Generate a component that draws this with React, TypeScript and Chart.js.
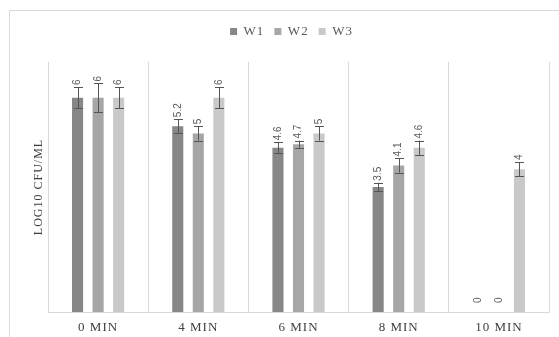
import React, { useEffect, useRef } from "react";
import { Chart, registerables } from "chart.js";

Chart.register(...registerables);

const categories = ["0 MIN", "4 MIN", "6 MIN", "8 MIN", "10 MIN"];
const seriesNames = ["W1", "W2", "W3"];
const w1Values = [6, 5.2, 4.6, 3.5, 0];
const w2Values = [6, 5, 4.7, 4.1, 0];
const w3Values = [6, 6, 5, 4.6, 4];
const w1Errors = [0.3, 0.2, 0.15, 0.12, 0];
const w2Errors = [0.4, 0.2, 0.1, 0.2, 0];
const w3Errors = [0.3, 0.3, 0.2, 0.2, 0.2];
const yTitle = "LOG10 CFU/ML";
const yMin = 0;
const yMax = 7;

const seriesValues = [w1Values, w2Values, w3Values];
const seriesErrors = [w1Errors, w2Errors, w3Errors];
const seriesColors = ["#878787", "#a6a6a6", "#c9c9c9"];

const SERIF = "'Liberation Serif', 'Times New Roman', serif";
const SANS = "'Liberation Sans', Arial, sans-serif";

const errorBarPlugin = {
  id: "errorBarsAndLabels",
  beforeUpdate(chart: any) {
    chart.ctx.letterSpacing = "1px";
  },
  beforeDraw(chart: any) {
    const ctx = chart.ctx;
    ctx.letterSpacing = "1px";
    ctx.save();
    ctx.strokeStyle = "#d9d9d9";
    ctx.lineWidth = 1;
    ctx.beginPath();
    ctx.moveTo(9.5, chart.height);
    ctx.lineTo(9.5, 10.5);
    ctx.lineTo(chart.width, 10.5);
    ctx.stroke();
    ctx.restore();
  },
  afterDatasetsDraw(chart: any) {
    const ctx = chart.ctx;
    const yScale = chart.scales.y;
    ctx.save();
    ctx.letterSpacing = "0px";
    chart.data.datasets.forEach((ds: any, di: number) => {
      const meta = chart.getDatasetMeta(di);
      const errs = seriesErrors[di];
      meta.data.forEach((bar: any, i: number) => {
        const v = ds.data[i] as number;
        const e = errs[i];
        const x = bar.x;
        let topY = yScale.getPixelForValue(v);
        if (e > 0) {
          const yHi = yScale.getPixelForValue(v + e);
          const yLo = yScale.getPixelForValue(v - e);
          const xs = Math.round(x) + 0.5;
          ctx.strokeStyle = "#555555";
          ctx.lineWidth = 1;
          ctx.beginPath();
          ctx.moveTo(xs, yHi);
          ctx.lineTo(xs, yLo);
          ctx.moveTo(xs - 4.5, Math.round(yHi) + 0.5);
          ctx.lineTo(xs + 4.5, Math.round(yHi) + 0.5);
          ctx.moveTo(xs - 4.5, Math.round(yLo) + 0.5);
          ctx.lineTo(xs + 4.5, Math.round(yLo) + 0.5);
          ctx.stroke();
          topY = yHi;
        }
        const gap = v === 0 ? 9 : 2;
        ctx.save();
        ctx.translate(x, topY - gap);
        ctx.rotate(-Math.PI / 2);
        ctx.fillStyle = "#595959";
        ctx.font = `10px ${SANS}`;
        ctx.textAlign = "left";
        ctx.textBaseline = "middle";
        ctx.fillText(String(v), 0, 0);
        ctx.restore();
      });
    });
    ctx.restore();
  },
};

export default function App() {
  const canvasRef = useRef<HTMLCanvasElement | null>(null);

  useEffect(() => {
    const canvas = canvasRef.current;
    if (!canvas) return;
    const chart = new Chart(canvas, {
      type: "bar",
      data: {
        labels: categories,
        datasets: seriesNames.map((name, i) => ({
          label: name,
          data: seriesValues[i],
          backgroundColor: seriesColors[i],
          borderWidth: 0,
          categoryPercentage: 0.615,
          barPercentage: 0.54,
        })),
      },
      options: {
        responsive: false,
        animation: false,
        devicePixelRatio: 1,
        layout: { padding: { top: 15, left: 34, right: 10, bottom: 0 } },
        plugins: {
          legend: {
            position: "top",
            labels: {
              boxWidth: 7,
              boxHeight: 7,
              padding: 10,
              color: "#595959",
              font: { family: SERIF, size: 13 },
            },
          },
          tooltip: { enabled: false },
        },
        scales: {
          x: {
            grid: { color: "#d9d9d9", drawTicks: false, offset: true },
            border: { color: "#d9d9d9" },
            ticks: { color: "#404040", padding: 8, font: { family: SERIF, size: 13 } },
            afterFit: (s: any) => {
              s.height = 25;
            },
          },
          xTop: {
            type: "category",
            position: "top",
            labels: categories,
            grid: { display: false },
            border: { display: false },
            ticks: { display: false },
            afterFit: (s: any) => {
              s.height = 14;
            },
          },
          y: {
            min: yMin,
            max: yMax,
            ticks: { display: false },
            grid: { display: false },
            border: { display: false },
            title: {
              display: true,
              text: yTitle,
              color: "#404040",
              font: { family: SERIF, size: 12 },
              padding: { top: -2, bottom: 0 },
            },
            afterFit: (s: any) => {
              s.width = 14;
            },
          },
        },
      } as any,
      plugins: [errorBarPlugin],
    });
    return () => chart.destroy();
  }, []);

  return (
    <div style={{ position: "absolute", left: 0, top: 0, width: 559, height: 337, background: "#fff" }}>
      <canvas ref={canvasRef} width={559} height={337} style={{ display: "block" }} />
    </div>
  );
}
